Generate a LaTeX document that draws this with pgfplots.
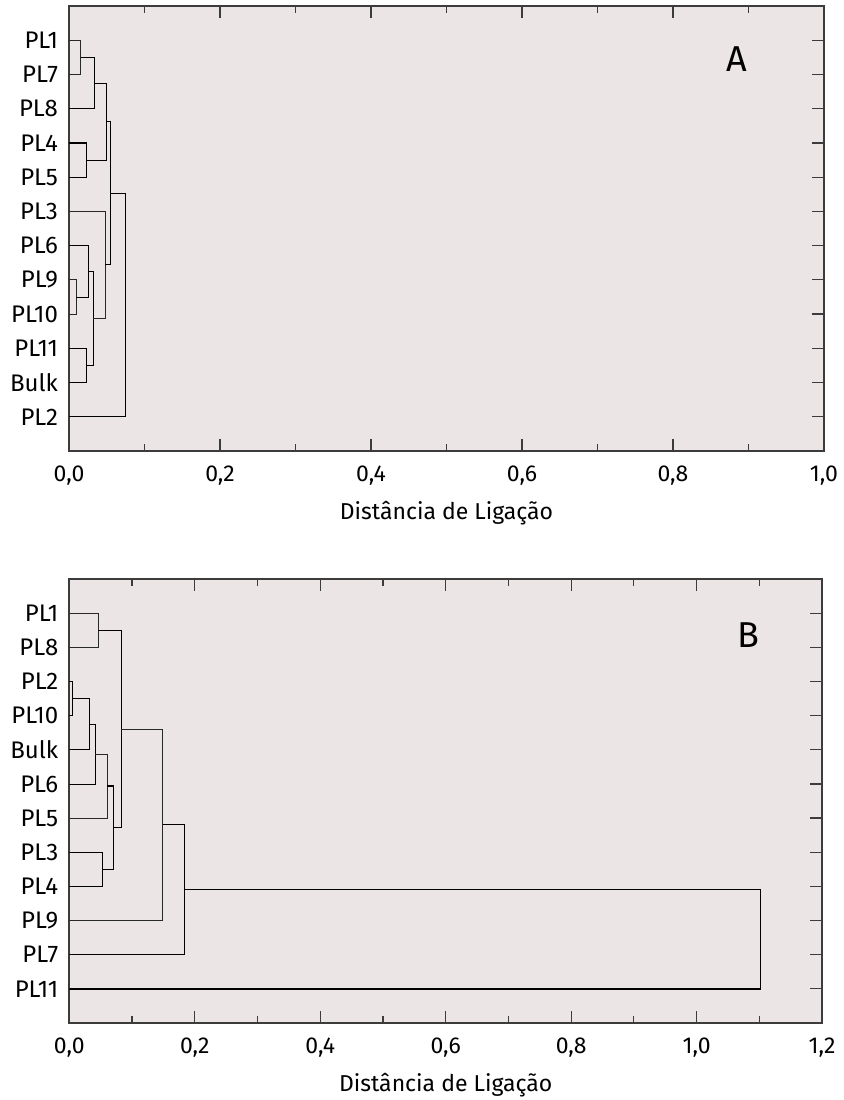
\documentclass[border=0pt]{standalone}
\usepackage{fontspec}
\setmainfont{Fira Sans}
\usepackage{pgfplots}
\pgfplotsset{compat=1.18}

\definecolor{panelbg}{RGB}{235,229,229}
\definecolor{dline}{RGB}{40,40,40}
\definecolor{framec}{RGB}{60,60,60}

\pgfplotsset{dendro/.style={
  scale only axis, y dir=reverse, ymin=0, ymax=13, xmin=0,
  axis background/.style={fill=panelbg},
  axis line style={framec, line width=0.8pt},
  every tick/.style={framec, line width=0.6pt},
  major tick length=6pt, minor tick length=3.5pt,
  minor x tick num=1,
  tick align=inside,
  ytick={1,...,12},
  ytick pos=right, yticklabel pos=left,
  xtick pos=both, xticklabel pos=bottom,
  /pgf/number format/use comma,
  /pgf/number format/fixed,
  /pgf/number format/fixed zerofill,
  /pgf/number format/precision=1,
  /pgf/number format/assume math mode=true,
  xticklabel style={font=\fontsize{11.5}{13}\selectfont, yshift=-4pt},
  yticklabel style={font=\fontsize{12}{14}\selectfont, xshift=-2pt},
  xlabel={Distância de Ligação},
  xlabel style={font=\fontsize{11.5}{13}\selectfont, yshift=-1pt},
  cycle list={{dline, solid, line width=0.65pt, mark=none}},
  no marks,
}}

\begin{document}
\begin{tikzpicture}
% ---- panel A
\begin{axis}[dendro, at={(0pt,0pt)}, anchor=south west,
  width=377.5pt, height=222.5pt, xmax=1.0,
  xtick={0,0.2,...,1.0},
  yticklabels={PL1,PL7,PL8,PL4,PL5,PL3,PL6,PL9,PL10,PL11,Bulk,PL2}]
\addplot coordinates {(0,1)(0.0155,1)(0.0155,2)(0,2)};
\addplot coordinates {(0.0155,1.5)(0.033,1.5)(0.033,3)(0,3)};
\addplot coordinates {(0,4)(0.023,4)(0.023,5)(0,5)};
\addplot coordinates {(0.033,2.25)(0.049,2.25)(0.049,4.5)(0.023,4.5)};
\addplot coordinates {(0,8)(0.0097,8)(0.0097,9)(0,9)};
\addplot coordinates {(0,7)(0.0256,7)(0.0256,8.5)(0.0097,8.5)};
\addplot coordinates {(0,10)(0.023,10)(0.023,11)(0,11)};
\addplot coordinates {(0.0256,7.75)(0.032,7.75)(0.032,10.5)(0.023,10.5)};
\addplot coordinates {(0,6)(0.048,6)(0.048,9.125)(0.032,9.125)};
\addplot coordinates {(0.049,3.375)(0.055,3.375)(0.055,7.5625)(0.048,7.5625)};
\addplot coordinates {(0.055,5.46875)(0.0746,5.46875)(0.0746,12)(0,12)};
\node[font=\fontsize{18}{20}\selectfont] at (axis cs:0.885,1.56) {A};
\end{axis}
% ---- panel B
\begin{axis}[dendro, at={(0.15pt,-286pt)}, anchor=south west,
  width=376.4pt, height=222pt, xmax=1.2,
  xtick={0,0.2,...,1.2},
  yticklabels={PL1,PL8,PL2,PL10,Bulk,PL6,PL5,PL3,PL4,PL9,PL7,PL11}]
\addplot coordinates {(0,1)(0.0456,1)(0.0456,2)(0,2)};
\addplot coordinates {(0,3)(0.0048,3)(0.0048,4)(0,4)};
\addplot coordinates {(0.0048,3.5)(0.032,3.5)(0.032,5)(0,5)};
\addplot coordinates {(0.032,4.25)(0.041,4.25)(0.041,6)(0,6)};
\addplot coordinates {(0.041,5.125)(0.0605,5.125)(0.0605,7)(0,7)};
\addplot coordinates {(0,8)(0.052,8)(0.052,9)(0,9)};
\addplot coordinates {(0.0605,6.0625)(0.070,6.0625)(0.070,8.5)(0.052,8.5)};
\addplot coordinates {(0.0456,1.5)(0.0828,1.5)(0.0828,7.28125)(0.070,7.28125)};
\addplot coordinates {(0.0828,4.390625)(0.149,4.390625)(0.149,10)(0,10)};
\addplot coordinates {(0.149,7.1953)(0.184,7.1953)(0.184,11)(0,11)};
\addplot coordinates {(0.184,9.0977)(1.1017,9.0977)(1.1017,12)(0,12)};
\node[font=\fontsize{18}{20}\selectfont] at (axis cs:1.082,1.65) {B};
\end{axis}
\pgfresetboundingbox
\useasboundingbox (-34.5pt,-324.5pt) rectangle (387pt,225.5pt);
\end{tikzpicture}
\end{document}
